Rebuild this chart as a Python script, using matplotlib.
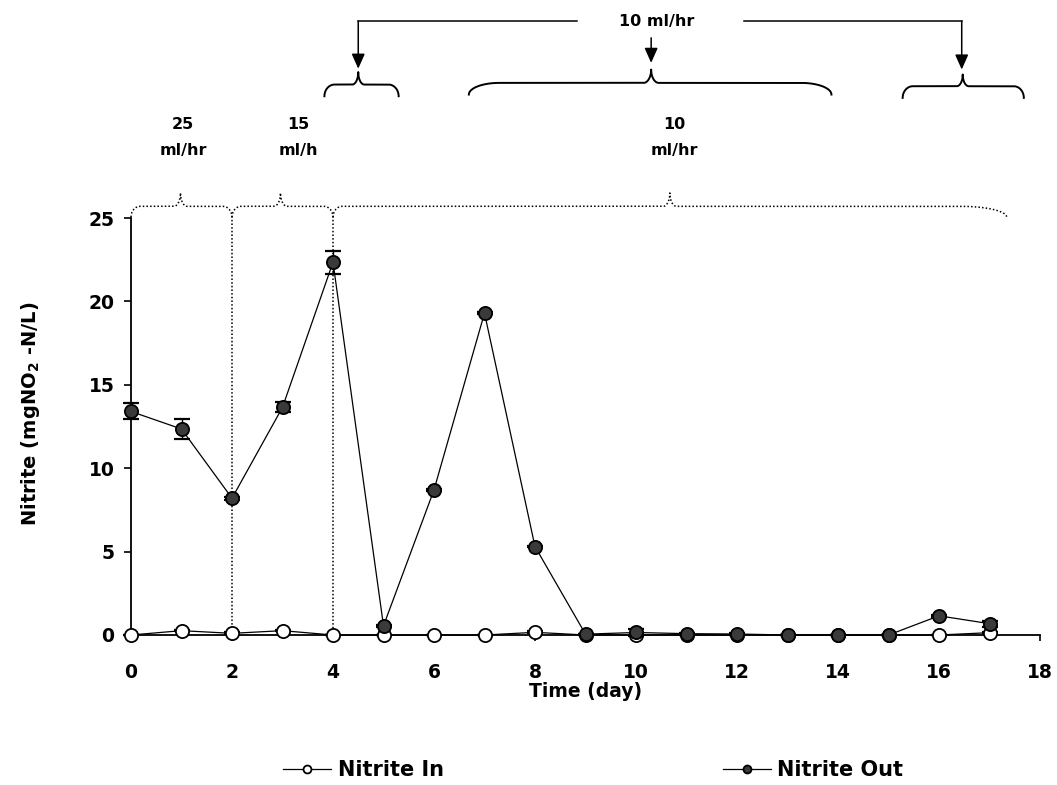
import numpy as np
import matplotlib
matplotlib.use("Agg")
import matplotlib.pyplot as plt

plt.rcParams["font.family"] = ["DejaVu Sans"]
plt.rcParams["font.weight"] = "bold"
plt.rcParams["mathtext.fontset"] = "dejavusans"
plt.rcParams["mathtext.default"] = "bf"

# ---- data ----
days = [0, 1, 2, 3, 4, 5, 6, 7, 8, 9, 10, 11, 12, 13, 14, 15, 16, 17]
nitrite_in = [0.0, 0.26, 0.1, 0.26, 0.0, 0.0, 0.0, 0.0, 0.16, 0.0,
              0.0, 0.0, 0.0, 0.0, 0.0, 0.0, 0.0, 0.14]
nitrite_out = [13.4, 12.35, 8.2, 13.65, 22.35, 0.55, 8.7, 19.3, 5.3, 0.05,
               0.15, 0.08, 0.06, 0.0, 0.0, 0.0, 1.15, 0.68]
nitrite_out_err = [0.48, 0.62, 0.1, 0.3, 0.69, 0.05, 0.05, 0.08, 0.05, 0.02,
                   0.18, 0.05, 0.05, 0.02, 0.02, 0.02, 0.05, 0.18]
nitrite_in_err = [0.02, 0.05, 0.05, 0.05, 0.02, 0.02, 0.02, 0.02, 0.05, 0.02,
                  0.02, 0.02, 0.02, 0.02, 0.02, 0.02, 0.02, 0.05]

x_ticks = [0, 2, 4, 6, 8, 10, 12, 14, 16, 18]
y_ticks = [0, 5, 10, 15, 20, 25]

# flow-rate phases: (start day, end day, label)
phases = [(0, 2, "25\nml/hr"), (2, 4, "15\nml/h"), (4, 17.34, "10\nml/hr")]
phase_tips = [0.98, 2.96, 10.67]
phase_label_x = [1.03, 3.31, 10.75]

W, H = 1057, 785
fig = plt.figure(figsize=(W / 100, H / 100), dpi=100)
ax = fig.add_axes([131 / W, 150 / H, 909 / W, 417 / H])

dark = "#3a3a3a"


def unclip(container):
    for art in container.get_children():
        art.set_clip_on(False)


ax.plot(days, nitrite_in, color="black", lw=0.9, marker="o", ms=9.5,
        mfc="white", mec="black", mew=1.3, zorder=3, label="Nitrite In",
        clip_on=False)
unclip(ax.errorbar(days, nitrite_in, yerr=nitrite_in_err, fmt="none",
                   ecolor="black", elinewidth=1.0, capsize=6, capthick=1.6,
                   zorder=2))
unclip(ax.errorbar(days, nitrite_out, yerr=nitrite_out_err, fmt="none",
                   ecolor="black", elinewidth=1.0, capsize=6, capthick=1.6,
                   zorder=4))
ax.plot(days, nitrite_out, color="black", lw=0.9, marker="o", ms=9.5,
        mfc=dark, mec="black", mew=1.3, zorder=5, label="Nitrite Out",
        clip_on=False)

ax.set_xlim(0, 18)
ax.set_ylim(0, 25)
ax.set_xticks(x_ticks)
ax.set_yticks(y_ticks)
for s in ("top", "right"):
    ax.spines[s].set_visible(False)
for s in ("left", "bottom"):
    ax.spines[s].set_linewidth(1.3)
    ax.spines[s].set_zorder(1)
ax.tick_params(axis="x", direction="out", length=4, width=1.2, pad=16, labelsize=13.5)
ax.tick_params(axis="y", direction="out", length=5, width=1.2, pad=7, labelsize=13.5)
for lab in ax.get_xticklabels() + ax.get_yticklabels():
    lab.set_fontweight("bold")

ax.set_xlabel("Time (day)", fontsize=13.5, fontweight="bold")
ax.xaxis.set_label_coords(0.5, -0.112)
ax.set_ylabel(r"Nitrite (mgNO$_2$ -N/L)", fontsize=14, fontweight="bold")
ax.yaxis.set_label_coords(-0.098, 0.53)


def brace(x0, x1, xm, y_end, y_flat, y_tip, r0, r1, rt, **kw):
    t = np.linspace(0, np.pi / 2, 40)
    xs = np.concatenate([
        x0 + r0 * (1 - np.cos(t)),
        xm - rt + rt * np.sin(t),
        xm + rt * (1 - np.cos(t)),
        x1 - r1 + r1 * np.sin(t),
    ])
    ys = np.concatenate([
        y_end + (y_flat - y_end) * np.sin(t),
        y_flat + (y_tip - y_flat) * (1 - np.cos(t)),
        y_tip - (y_tip - y_flat) * np.sin(t),
        y_flat - (y_flat - y_end) * (1 - np.cos(t)),
    ])
    ax.plot(xs, ys, clip_on=False, color="black", **kw)


dot = dict(lw=1.1, linestyle=(0, (1, 1.4)))
for (a, b, label), tip, lx in zip(phases, phase_tips, phase_label_x):
    r1 = 0.9 if b > 10 else 0.18
    brace(a, b, tip, 25.05, 25.7, 26.5, 0.18, r1, 0.13, **dot)
    ax.text(lx, 29.85, label, ha="center", va="center", fontsize=11.5,
            fontweight="bold", linespacing=1.9)
for a, _, _ in phases[1:]:
    ax.plot([a, a], [0.15, 25.05], clip_on=False, color="black", **dot)

# solid braces marking the 10 ml/hr sub-periods
brace(3.83, 5.30, 4.5, 32.3, 33.0, 33.75, 0.2, 0.2, 0.12, lw=1.4)
brace(6.69, 13.87, 10.3, 32.4, 33.1, 33.9, 0.6, 0.6, 0.15, lw=1.4)
brace(15.28, 17.68, 16.47, 32.2, 32.9, 33.6, 0.2, 0.2, 0.12, lw=1.4)

y_top = 36.8
ax.plot([4.5, 8.83], [y_top, y_top], color="black", lw=1.1, clip_on=False)
ax.plot([12.14, 16.45], [y_top, y_top], color="black", lw=1.1, clip_on=False)
arrow = dict(arrowstyle="-|>,head_length=0.9,head_width=0.4", color="black",
             lw=1.1, shrinkA=0, shrinkB=0)
ax.annotate("", xy=(4.5, 33.95), xytext=(4.5, y_top), arrowprops=arrow,
            annotation_clip=False)
ax.annotate("", xy=(16.45, 33.9), xytext=(16.45, y_top), arrowprops=arrow,
            annotation_clip=False)
ax.annotate("", xy=(10.3, 34.3), xytext=(10.3, 35.8), arrowprops=arrow,
            annotation_clip=False)
ax.text(10.4, y_top, "10 ml/hr", ha="center", va="center", fontsize=11.5,
        fontweight="bold")

fig.legend(loc="center left", bbox_to_anchor=(273 / W, 1 - 770 / H), ncol=2,
           frameon=False, markerscale=0.6, handlelength=2.3,
           handletextpad=0.3, columnspacing=13.4, borderpad=0,
           prop={"weight": "bold", "size": 15})

fig.savefig("out.png", dpi=100, facecolor="white")
